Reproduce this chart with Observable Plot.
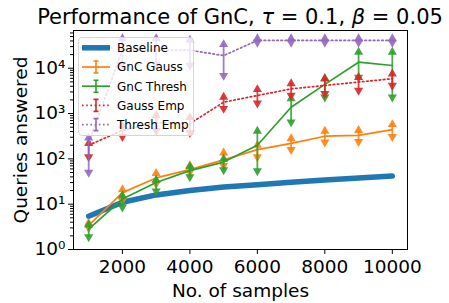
<!DOCTYPE html>
<html><head><meta charset="utf-8">
<script src="https://cdn.jsdelivr.net/npm/d3@7"></script>
<script src="https://cdn.jsdelivr.net/npm/@observablehq/plot@0.6"></script>
<style>
body{margin:0;width:449px;height:303px;overflow:hidden;position:relative;background:#fff;font-family:"DejaVu Sans",sans-serif;}
#title{position:absolute;top:7px;left:0;width:480px;text-align:center;font-size:21px;line-height:21px;color:#000;white-space:nowrap;}
#chart{position:absolute;top:28px;left:0;}
#legend{position:absolute;left:78px;top:37px;width:116px;height:99px;box-sizing:border-box;border:1px solid #d6d6d6;border-radius:4px;background:rgba(255,255,255,0.8);}
#legend svg{position:absolute;left:-1px;top:-1px;}
</style></head>
<body>
<div id="title">Performance of GnC, <i>τ</i> = 0.1, <i>β</i> = 0.05</div>
<div id="chart"></div>
<div id="legend"></div>
<script>
const samples = [1000, 2000, 3000, 4000, 5000, 6000, 7000, 8000, 9000, 10000];
const baseline = [5.4, 11, 16, 20, 24, 27, 30.5, 34, 38, 42];

const gncGauss   = [3.4, 18, 38, 58, 95, 160, 220, 316, 330, 440];
const gncGaussLo = [3.0, 12, 28, 51, 71, 110, 160, 234, 240, 310];
const gncGaussHi = [3.8, 21, 48, 71, 136, 200, 280, 410, 425, 575];

const gncThresh   = [2.8, 13, 30, 55, 85, 200, 1380, 4400, 13600, 11500];
const gncThreshLo = [1.9, 8.6, 19.5, 40, 57, 54, 650, 2300, 6300, 2300];
const gncThreshHi = [3.5, 15.5, 34, 68, 100, 410, 2130, 6000, 22800, 22800];

const gaussEmp   = [200, 425, 630, 600, 1780, 2500, 3500, 4170, 4960, 5860];
const gaussEmpLo = [110, 310, 420, 380, 1290, 1700, 2500, 2750, 3240, 4170];
const gaussEmpHi = [220, 540, 910, 820, 2300, 3400, 4600, 5800, 6300, 7500];

const threshEmp   = [230, 25000, 25000, 25000, 19000, 41000, 41000, 41000, 41000, 41000];
const threshEmpLo = [50, 12000, 12000, 11500, 6900, 37000, 37000, 37000, 37000, 37000];
const threshEmpHi = [290, 45000, 45000, 42000, 33500, 45000, 45000, 45000, 45000, 45000];

const xTicks = [2000, 4000, 6000, 8000, 10000];
const yMajor = [1, 10, 100, 1000, 10000];
const yLabels = ["10⁰", "10¹", "10²", "10³", "10⁴"];
const yMinor = [];
for (const d of [1, 10, 100, 1000, 10000]) for (let k = 2; k <= 9; k++) if (d * k <= 68000) yMinor.push(d * k);

const series = [
  {name: "GnC Gauss",  color: "#ff7f0e", dash: null,      val: gncGauss,  lo: gncGaussLo,  hi: gncGaussHi},
  {name: "GnC Thresh", color: "#2ca02c", dash: null,      val: gncThresh, lo: gncThreshLo, hi: gncThreshHi},
  {name: "Gauss Emp",  color: "#d62728", dash: "1.6,2.6", val: gaussEmp,  lo: gaussEmpLo,  hi: gaussEmpHi},
  {name: "Thresh Emp", color: "#9467bd", dash: "1.6,2.6", val: threshEmp, lo: threshEmpLo, hi: threshEmpHi}
];

const baseRows = samples.map((x, i) => ({x, y: baseline[i]}));
const marks = [
  Plot.line(baseRows, {x: "x", y: "y", stroke: "#1f77b4", strokeWidth: 5.5})
];
for (const s of series) {
  const rows = samples.map((x, i) => ({x, y: s.val[i], lo: s.lo[i], hi: s.hi[i]}));
  marks.push(
    Plot.line(rows, {x: "x", y: "y", stroke: s.color, strokeWidth: 1.7, strokeDasharray: s.dash}),
    Plot.ruleX(rows, {x: "x", y1: "lo", y2: "hi", stroke: s.color, strokeWidth: 1.8, strokeOpacity: 0.85}),
    Plot.dot(rows, {x: "x", y: "hi", symbol: "triangle", r: 3.4, fill: s.color, fillOpacity: 0.9, stroke: "none"}),
    Plot.dot(rows, {x: "x", y: "lo", symbol: "triangle", r: 3.4, rotate: 180, fill: s.color, fillOpacity: 0.9, stroke: "none"})
  );
}

const chart = Plot.plot({
  width: 449, height: 275,
  marginLeft: 73, marginRight: 42, marginTop: 2, marginBottom: 54,
  style: {fontFamily: "DejaVu Sans", fontSize: "18.5px", color: "#000", background: "transparent"},
  x: {domain: [550, 10450]},
  y: {type: "log", domain: [1, 68000]},
  marks: [
    ...marks,
    Plot.frame({stroke: "#000", strokeWidth: 1}),
    Plot.axisX({ticks: xTicks, tickSize: 5, tickPadding: 5, tickFormat: d => String(d), fontSize: 18.5,
      label: "No. of samples", labelAnchor: "center", labelArrow: "none", labelOffset: 47}),
    Plot.axisY({ticks: yMajor, tickSize: 5, tickPadding: 3, tickFormat: d => yLabels[yMajor.indexOf(d)], fontSize: 18.5,
      label: "Queries answered", labelAnchor: "center", labelArrow: "none", labelOffset: 60}),
    Plot.axisY({ticks: yMinor, tickSize: 3, tickFormat: () => "", label: null})
  ]
});
document.getElementById("chart").appendChild(chart);

// Legend
const legendItems = [
  {name: "Baseline", color: "#1f77b4", kind: "thick"},
  ...series.map(s => ({name: s.name, color: s.color, kind: "err", dash: s.dash}))
];
const NS = "http://www.w3.org/2000/svg";
const lsvg = document.createElementNS(NS, "svg");
lsvg.setAttribute("width", 116); lsvg.setAttribute("height", 99);
legendItems.forEach((it, i) => {
  const cy = 10.8 + i * 19.2;
  const g = document.createElementNS(NS, "g");
  const line = document.createElementNS(NS, "line");
  line.setAttribute("x1", 4); line.setAttribute("x2", 32); line.setAttribute("y1", cy); line.setAttribute("y2", cy);
  line.setAttribute("stroke", it.color);
  line.setAttribute("stroke-width", it.kind === "thick" ? 5.5 : 1.7);
  if (it.dash) line.setAttribute("stroke-dasharray", it.dash);
  g.appendChild(line);
  if (it.kind === "err") {
    const p = document.createElementNS(NS, "path");
    p.setAttribute("d", `M18,${cy-6}V${cy+6}M15.5,${cy-6}H20.5M15.5,${cy+6}H20.5`);
    p.setAttribute("stroke", it.color); p.setAttribute("stroke-width", 1.6); p.setAttribute("fill", "none");
    g.appendChild(p);
  }
  const t = document.createElementNS(NS, "text");
  t.setAttribute("x", 39); t.setAttribute("y", cy + 4.3);
  t.setAttribute("font-size", "12px"); t.setAttribute("font-family", "DejaVu Sans");
  t.textContent = it.name;
  g.appendChild(t);
  lsvg.appendChild(g);
});
document.getElementById("legend").appendChild(lsvg);
</script>
</body></html>
